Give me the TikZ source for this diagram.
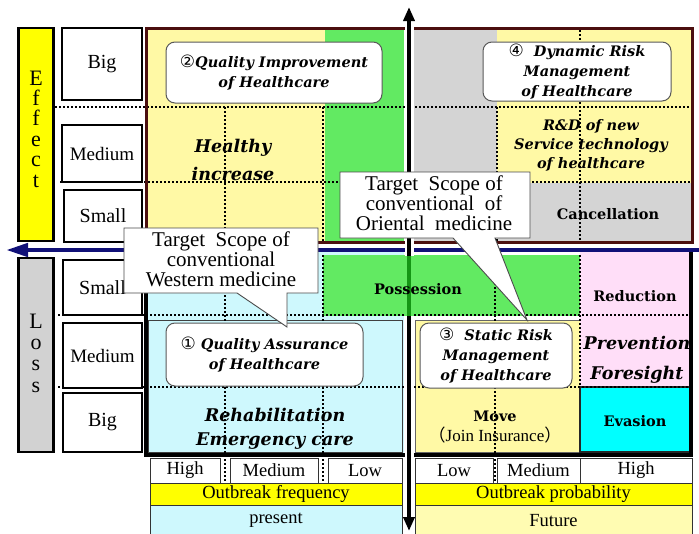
\documentclass[tikz,border=0pt]{standalone}
\usepackage{fontspec}
\setmainfont{Liberation Serif}
\newfontfamily\dvserif{DejaVu Serif}
\newfontfamily\dvsans{DejaVu Sans}
\newfontfamily\cjkfont{Noto Sans CJK JP}
\usetikzlibrary{arrows.meta}
\definecolor{paleyel}{RGB}{255,249,165}
\definecolor{grn}{RGB}{98,234,98}
\definecolor{dgrn}{RGB}{20,150,20}
\definecolor{lgray}{RGB}{212,212,212}
\definecolor{lossgray}{RGB}{210,210,210}
\definecolor{lcyan}{RGB}{206,248,253}
\definecolor{pinkish}{RGB}{255,222,248}
\definecolor{navyax}{RGB}{16,16,120}
\definecolor{framered}{RGB}{75,15,15}
\definecolor{futyel}{RGB}{255,252,178}
\definecolor{brightcyan}{RGB}{0,255,255}
\definecolor{brightyel}{RGB}{255,255,0}
\newcommand\fsz[2]{\fontsize{#1}{#2}\selectfont}
\newcommand\circn[1]{{\dvsans\mdseries\upshape\fsz{17}{20}#1}}
\tikzset{
  lbl/.style={draw=black, line width=1.1pt, fill=white, inner sep=0pt, font=\fsz{20}{22}},
  dots/.style={line width=1.8pt, dash pattern=on 1.8pt off 2.2pt},
  rbox/.style={draw=black!65, line width=1pt, fill=white, rounded corners=9pt, align=center, inner sep=0pt, font=\dvserif\bfseries\itshape\fsz{14.5}{20}},
  bd/.style={align=center, inner sep=0pt, font=\dvserif\bfseries\fsz{14.5}{19}},
  cell/.style={draw=black!80, line width=0.8pt, inner sep=0pt, font=\fsz{18.5}{20}},
  callout/.style={draw=black!70, line width=0.9pt, fill=white},
  calltext/.style={align=center, inner sep=0pt, font=\fsz{21}{20}},
}
\begin{document}
\begin{tikzpicture}[x=1pt, y=-1pt]
\useasboundingbox (0,0) rectangle (699,533);
% ---------- fills, upper part
\fill[paleyel] (146,28) rectangle (325,242);
\fill[grn] (325,28) rectangle (404,242);
\fill[lgray] (413,28) rectangle (497,242);
\fill[paleyel] (497,28) rectangle (692,183);
\fill[lgray] (497,183) rectangle (692,242);
% ---------- fills, lower part
\fill[lcyan] (146,252) rectangle (404,455);
\draw[draw=black!75, line width=1pt, fill=lcyan] (148,320) rectangle (402,452);
\draw[draw=black!60, line width=1pt, fill=paleyel] (415,320) rectangle (580,452);
\fill[pinkish] (580,252) rectangle (692,387);
\draw[draw=black!85, line width=1.3pt, fill=brightcyan] (580,387) rectangle (690,452);
\fill[grn] (323,255) rectangle (580,316);
% ---------- dotted grid
\draw[dots] (55,107) -- (692,107);
\draw[dots] (60,182) -- (692,182);
\draw[dots] (58,315) -- (692,315);
\draw[dots] (58,387) -- (692,387);
\draw[dots] (225,107) -- (225,242);
\draw[dots] (225,255) -- (225,483);
\draw[dots] (323,107) -- (323,242);
\draw[dots] (323,255) -- (323,483);
\draw[dots] (497,107) -- (497,242);
\draw[dots] (580,30) -- (580,242);
\draw[dots] (580,255) -- (580,387);
\draw[dots] (495,255) -- (495,483);
% ---------- frames
\draw[framered, line width=3pt] (146,28) rectangle (692,242);
\draw[black, line width=3.5pt] (146,250) rectangle (691,455);
% ---------- axes
\draw[navyax, line width=4.5pt, -{Triangle[length=22pt,width=13pt]}] (699,250) -- (6,250);
\draw[white, line width=9pt] (409,22) -- (409,515);
\draw[black, line width=4.5pt, {Triangle[length=14pt,width=11pt]}-{Triangle[length=14pt,width=11pt]}] (409,7) -- (409,531);
\fill[grn] (404,256) rectangle (414,316);
\draw[dgrn, line width=4pt] (409,256) -- (409,316);
% ---------- side labels
\node[draw=black, line width=2.5pt, fill=brightyel, minimum width=35, minimum height=213, inner sep=0pt] (effbox) at (36,134.5) {};
\node[draw=black, line width=2.5pt, fill=lossgray, minimum width=35, minimum height=194, inner sep=0pt] (lossbox) at (36,355) {};
\node[align=center, inner sep=0pt, font=\fsz{22}{20.4}] (efftxt) at (36,129) {E\\f\\f\\e\\c\\t};
\node[align=center, inner sep=0pt, font=\fsz{22}{21.3}] (losstxt) at (36,353) {L\\o\\s\\s};
\node[lbl, minimum width=80, minimum height=72] (eBig) at (102,64) {Big};
\node[lbl, minimum width=80, minimum height=57, font=\fsz{19}{21}] (eMed) at (102,153.5) {Medium};
\node[lbl, minimum width=78, minimum height=52] (eSmall) at (103,216) {Small};
\node[lbl, minimum width=79, minimum height=55] (lSmall) at (102.5,287.5) {Small};
\node[lbl, minimum width=79, minimum height=65, font=\fsz{19}{21}] (lMed) at (102.5,355.5) {Medium};
\node[lbl, minimum width=79, minimum height=59] (lBig) at (102.5,422.5) {Big};
% ---------- bottom table
\node[cell, fill=white, minimum width=70, minimum height=25] (fHigh) at (185,470.5) {High};
\node[cell, fill=white, minimum width=88, minimum height=25] (fMed) at (274,470.5) {Medium};
\node[cell, fill=white, minimum width=74, minimum height=25] (fLow) at (365,470.5) {Low};
\node[cell, fill=brightyel, minimum width=252, minimum height=22] (freq) at (276,494) {Outbreak frequency};
\node[cell, fill=lcyan, minimum width=252, minimum height=31] (present) at (276,520.5) {present};
\node[cell, fill=white, minimum width=78, minimum height=25] (pLow) at (454,470.5) {Low};
\node[cell, fill=white, minimum width=83, minimum height=25] (pMed) at (538.5,470.5) {Medium};
\node[cell, fill=white, minimum width=112, minimum height=25] (pHigh) at (636,470.5) {High};
\node[cell, fill=brightyel, minimum width=277, minimum height=22] (prob) at (553.5,494) {Outbreak probability};
\node[cell, fill=futyel, minimum width=277, minimum height=31] (future) at (553.5,520.5) {Future};
% ---------- region texts
\node[align=center, inner sep=0pt, font=\dvserif\bfseries\itshape\fsz{17.5}{28}] (healthy) at (233,160) {Healthy\\increase};
\node[align=center, inner sep=0pt, font=\dvserif\bfseries\itshape\fsz{14.5}{19}] (rnd) at (591,145) {R\&D of new\\Service technology\\of healthcare};
\node[bd] (cancel) at (608,214) {Cancellation};
\node[bd] (poss) at (418,289) {Possession};
\node[bd] (reduc) at (635,296) {Reduction};
\node[align=center, inner sep=0pt, font=\dvserif\bfseries\itshape\fsz{17.5}{30}] (prev) at (637,360) {Prevention\\Foresight};
\node[align=center, inner sep=0pt, font=\dvserif\bfseries\itshape\fsz{17.5}{24}] (rehab) at (275,428.5) {Rehabilitation\\Emergency care};
\node[align=center, inner sep=0pt, font=\fsz{17}{20}] (move) at (495,427) {{\dvserif\bfseries\fsz{14.5}{20}Move}\\{\cjkfont （}Join Insurance{\cjkfont ）}};
\node[bd] (evas) at (635,421) {Evasion};
% ---------- rounded boxes
\node[rbox, minimum width=216, minimum height=61] (q2) at (274,72.5) {\circn{②}Quality Improvement\\of Healthcare};
\node[rbox, minimum width=188, minimum height=59] (q4) at (577,71.5) {\circn{④}\ \ Dynamic Risk\\Management\\of Healthcare};
\node[rbox, minimum width=197, minimum height=63] (q1) at (264.5,354.5) {\circn{①} Quality Assurance\\of Healthcare};
\node[rbox, minimum width=152, minimum height=65] (q3) at (496,355.5) {\circn{③}\ \ Static Risk\\Management\\of Healthcare};
% ---------- callouts
\draw[callout] (124,228) -- (318,228) -- (318,293) -- (287,293) -- (287,327) -- (237,293) -- (124,293) -- cycle;
\node[calltext] (wtxt) at (221,259) {Target~ Scope of\\conventional\\Western medicine};
\draw[callout] (340,172) -- (530,172) -- (530,238) -- (495,238) -- (527,320) -- (453,238) -- (340,238) -- cycle;
\node[calltext] (otxt) at (434,203) {Target~ Scope of\\conventional~ of\\Oriental~ medicine};
\end{tikzpicture}
\end{document}
